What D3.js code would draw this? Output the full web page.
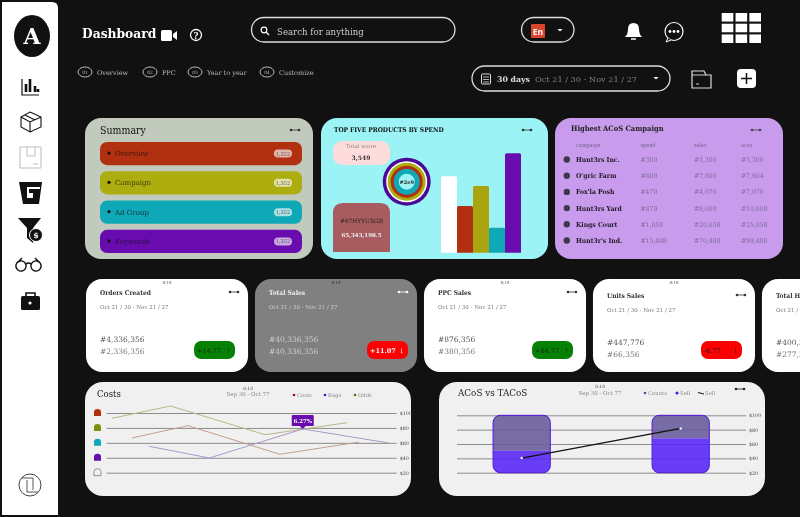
<!DOCTYPE html>
<html>
<head>
<meta charset="utf-8">
<script src="https://cdn.jsdelivr.net/npm/d3@7"></script>
<style>
  html, body { margin: 0; padding: 0; background: #111; overflow: hidden; }
  svg { display: block; filter: blur(0.45px); }
  text { font-family: "DejaVu Serif", serif; }
</style>
</head>
<body>
<div class="chart"></div>
<script>
const w = 800;
const h = 517;

// Data
const navChips = ['Overview', 'PPC', 'Year to year', 'Customize'];
const summaryRows = ['Overview', 'Campaign', 'Ad Group', 'Keywords'];
const summaryCounts = ['1,352', '1,352', '1,352', '1,352'];

const productNames = ['A', 'B', 'C', 'D', 'E'];
const productSpend = [77, 47, 67, 25, 100];
const ringValues = [24, 20.5, 19, 16, 13, 8];

const tableHead = ['campaign', 'spend', 'sales', 'acos'];
const campaigns = ['Hunt3rs Inc.', "O'gric Farm", "Fox'la Posh", 'Hunt3rs Yard', 'Kings Court', "Hunt3r's Ind."];
const spend = ['#300', '#600', '#470', '#879', '#1,058', '#15,488'];
const sales = ['#3,300', '#7,600', '#4,070', '#8,009', '#20,058', '#70,488'];
const acos = ['#3,300', '#7,604', '#7,070', '#10,009', '#25,058', '#99,488'];

const kpiTitles = ['Orders Created', 'Total Sales', 'PPC Sales', 'Units Sales', 'Total Hours'];
const kpiNow = ['#4,336,356', '#40,336,356', '#876,356', '#447,776', '#400,356'];
const kpiPrev = ['#2,336,356', '#40,336,356', '#380,356', '#66,356', '#277,356'];
const kpiDelta = ['+14.77', '+11.07', '+64.77', '-6.77', ''];
const kpiUp = [true, false, true, false, true];

const yTicks = [20, 40, 60, 80, 100];
const tickLabels = ['$20', '$40', '$60', '$80', '$100'];

const costsDays = [1.8, 22, 54.6, 82.8];
const costsValues = [92.9, 109.4, 70.9, 87];
const kingsDays = [8.7, 28, 59.7, 87];
const kingsValues = [66.5, 83, 44.7, 61];
const oddsDays = [14.6, 35.4, 67.6, 97];
const oddsValues = [55.4, 39.7, 78.6, 60];

const acosCats = ['Sep 30', 'Oct 77'];
const countsValues = [50.5, 67.8];
const sellTop = [100, 100];
const sellLine = [40.4, 81.7];

const periodLong = 'Oct 21 / 30 - Nov 21 / 27';
const periodShort = 'Sep 30 - Oct 77';

const red = '#b0300f';
const olive = '#aead10';
const teal = '#0fa8b6';
const purple = '#680cb0';
const condensed = '"DejaVu Serif Condensed", "DejaVu Serif", serif';

const svg = d3.select('.chart').append('svg').attr('width', w).attr('height', h);
svg.append('rect').attr('width', w).attr('height', h).attr('fill', '#111');

function txt(g, x, y, s, size, fill, weight, anchor) {
  return g.append('text').attr('x', x).attr('y', y).text(s)
    .attr('font-size', size).attr('fill', fill)
    .attr('font-weight', weight || 400).attr('text-anchor', anchor || 'start');
}

function narrow(g, x, y, s, size, fill, weight, anchor) {
  return txt(g, x, y, s, size, fill, weight, anchor).style('font-family', condensed);
}

function card(x, y, cw, ch, r, fill) {
  return svg.append('rect').attr('x', x).attr('y', y).attr('width', cw).attr('height', ch)
    .attr('rx', r).attr('fill', fill);
}

function more(g, x, y, color) {
  g.append('path').attr('d', `M${x - 4},${y}H${x + 4}`).attr('stroke', color).attr('stroke-width', 0.8);
  g.append('circle').attr('cx', x - 4).attr('cy', y).attr('r', 1.3).attr('fill', color);
  g.append('circle').attr('cx', x + 4).attr('cy', y).attr('r', 1.3).attr('fill', color);
}

// Sidebar
svg.append('path').attr('d', 'M2,2H52Q58,2 58,8V515H2Z').attr('fill', '#fff');
svg.append('ellipse').attr('cx', 32).attr('cy', 36).attr('rx', 18).attr('ry', 21).attr('fill', '#111');
txt(svg, 32, 44, 'A', 22, '#fff', 700, 'middle');

const side = svg.append('g').attr('fill', 'none').attr('stroke', '#111');
side.append('path').attr('d', 'M22,79V95H39').attr('stroke-width', 1.2);
side.append('path').attr('d', 'M26,92V84M30,92V79M35,92V86M38,92V89').attr('stroke-width', 2.6);
side.append('path').attr('d', 'M30,112L41,117V127L30,132L21,127V117ZM21,117L30,122L41,117M30,122V132M25,115L35,120')
  .attr('stroke-width', 1.1);
side.append('path').attr('d', 'M20,147H41V168H20ZM27,147V156H35V147M33,164H38')
  .attr('stroke', '#bbb').attr('stroke-width', 1);
svg.append('path').attr('d', 'M19,182H42L39,204H23ZM27,189V198H33V193H29V189H40V187H27Z').attr('fill', '#111');
svg.append('path').attr('d', 'M18,218H41L33,228V243L27,238V228Z').attr('fill', '#111');
svg.append('circle').attr('cx', 36).attr('cy', 235).attr('r', 6.5).attr('fill', '#111').attr('stroke', '#fff');
txt(svg, 36, 238, '$', 8, '#fff', 700, 'middle');
side.append('path').attr('d', 'M26,265a5,5 0 1,1 -10,2a5,5 0 1,1 10,-2ZM31,265a5,5 0 1,0 10,2a5,5 0 1,0 -10,-2ZM26,264Q28.5,262 31,264M18,262L22,258M39,262L35,258')
  .attr('stroke-width', 1.4);
svg.append('rect').attr('x', 21).attr('y', 296).attr('width', 19).attr('height', 14).attr('rx', 1.5).attr('fill', '#111');
side.append('path').attr('d', 'M26,296V293H35V296').attr('stroke-width', 1.6);
side.append('path').attr('d', 'M21,303H40').attr('stroke', '#fff').attr('stroke-width', 1);
svg.append('circle').attr('cx', 30).attr('cy', 303).attr('r', 1.6).attr('fill', '#fff');
side.append('circle').attr('cx', 30).attr('cy', 485).attr('r', 11).attr('stroke', '#444').attr('stroke-width', 1);
side.append('path').attr('d', 'M22,478H33V490M38,492H27V480').attr('stroke', '#444').attr('stroke-width', 0.9);

// Header
txt(svg, 82, 38, 'Dashboard', 12.3, '#fff', 700);
svg.append('rect').attr('x', 161).attr('y', 30).attr('width', 11).attr('height', 11).attr('rx', 1.5).attr('fill', '#fff');
svg.append('path').attr('d', 'M173,34L177,31V40L173,37Z').attr('fill', '#fff');
svg.append('circle').attr('cx', 196).attr('cy', 35).attr('r', 5.5).attr('fill', 'none').attr('stroke', '#fff').attr('stroke-width', 1.3);
txt(svg, 196, 38.5, '?', 8.5, '#fff', 700, 'middle');

function pill(x, y, pw, ph) {
  svg.append('rect').attr('x', x).attr('y', y).attr('width', pw).attr('height', ph).attr('rx', ph / 2)
    .attr('fill', 'none').attr('stroke', '#ddd').attr('stroke-width', 1.3);
}
function caret(x, y) {
  svg.append('path').attr('d', `M${x - 2.5},${y - 1}h5l-2.5,2.5Z`).attr('fill', '#fff');
}

pill(251.5, 17.5, 203.5, 24.5);
svg.append('circle').attr('cx', 264).attr('cy', 30).attr('r', 2.8).attr('fill', 'none').attr('stroke', '#fff').attr('stroke-width', 1.2);
svg.append('path').attr('d', 'M266,32L269,35').attr('stroke', '#fff').attr('stroke-width', 1.3);
txt(svg, 277, 35, 'Search for anything', 8.6, '#ccc');

pill(521.5, 17.5, 52.5, 24.5);
svg.append('rect').attr('x', 531).attr('y', 24).attr('width', 14).attr('height', 14).attr('rx', 1).attr('fill', '#d8452a');
txt(svg, 538, 34.5, 'En', 8.5, '#fff', 700, 'middle').style('font-family', '"Open Sans", sans-serif');
caret(560, 30);

svg.append('path').attr('d', 'M625,37Q628,34 628,29Q628,23 633.5,23Q639,23 639,29Q639,34 642,37Z').attr('fill', '#fff');
svg.append('path').attr('d', 'M631,39H636').attr('stroke', '#fff').attr('stroke-width', 1.5);
svg.append('circle').attr('cx', 674).attr('cy', 31.5).attr('r', 9).attr('fill', 'none').attr('stroke', '#fff').attr('stroke-width', 1.2);
svg.append('path').attr('d', 'M668,38L666,42L671,40').attr('fill', '#111').attr('stroke', '#fff');
svg.selectAll('.chat').data([670, 674, 678]).enter().append('circle')
  .attr('cx', (d) => d).attr('cy', 31.5).attr('r', 1.4).attr('fill', '#fff');

const gridX = d3.scaleBand().domain([0, 1, 2]).range([721.7, 761]).paddingInner(0.16);
const gridY = d3.scaleBand().domain([0, 1, 2]).range([13, 43]).paddingInner(0.2);
[0, 1, 2].forEach((r) => {
  [0, 1, 2].forEach((c) => {
    svg.append('rect').attr('x', gridX(c)).attr('y', gridY(r))
      .attr('width', gridX.bandwidth()).attr('height', gridY.bandwidth()).attr('fill', '#fff');
  });
});

// Chips under the title
const chipX = [85, 150, 195, 267];
navChips.forEach((d, i) => {
  svg.append('ellipse').attr('cx', chipX[i]).attr('cy', 72).attr('rx', 7).attr('ry', 5)
    .attr('fill', 'none').attr('stroke', '#ccc').attr('stroke-width', 0.9);
  txt(svg, chipX[i], 74, '0' + (i + 1), 4.5, '#bbb', 400, 'middle');
  txt(svg, chipX[i] + 12, 75, d, 6.5, '#bbb');
});

// Date picker
pill(472, 66, 198, 25);
svg.append('rect').attr('x', 481.5).attr('y', 74).attr('width', 9).attr('height', 10).attr('rx', 1).attr('fill', 'none').attr('stroke', '#ddd');
svg.append('path').attr('d', 'M483,77H489M483,79.5H489M483,82H489').attr('stroke', '#ddd').attr('stroke-width', 0.8);
txt(svg, 497, 82, '30 days', 7.8, '#ddd', 700);
txt(svg, 535, 82, periodLong, 8.2, '#808080');
caret(656, 78);

svg.append('path').attr('d', 'M692,88V71H704L706,75H711V88Z').attr('fill', 'none').attr('stroke', '#ddd').attr('stroke-width', 1.2);
svg.append('path').attr('d', 'M692,75H706M696,84H699').attr('stroke', '#ddd').attr('stroke-width', 0.9);
svg.append('rect').attr('x', 737).attr('y', 69).attr('width', 19).attr('height', 19).attr('rx', 4).attr('fill', '#fff');
svg.append('path').attr('d', 'M741,78.5H752M746.5,73V84').attr('stroke', '#111').attr('stroke-width', 1.5);

// Summary card
card(85, 118, 228, 141, 16, '#c2cabe');
narrow(svg, 100, 134, 'Summary', 10.5, '#111', 400);
more(svg, 295, 130, '#333');
const rowColors = [red, olive, teal, purple];
const rowY = d3.scaleBand().domain(summaryRows).range([142, 253]).paddingInner(0.21).paddingOuter(0);
summaryRows.forEach((d, i) => {
  svg.append('rect').attr('x', 100).attr('y', rowY(d)).attr('width', 202).attr('height', rowY.bandwidth())
    .attr('rx', 7).attr('fill', rowColors[i]);
  const cy = rowY(d) + rowY.bandwidth() / 2;
  svg.append('circle').attr('cx', 109).attr('cy', cy - 0.5).attr('r', 1.6).attr('fill', '#111');
  txt(svg, 115, cy + 2.5, d, 7, 'rgba(17,17,17,0.75)');
  svg.append('rect').attr('x', 274).attr('y', cy - 4).attr('width', 18).attr('height', 8).attr('rx', 4)
    .attr('fill', 'rgba(255,255,255,0.65)');
  txt(svg, 283, cy + 2, summaryCounts[i], 5, '#555', 400, 'middle');
});

// Top five card
card(321, 118, 227, 141, 16, '#9cf3f5');
narrow(svg, 334, 132, 'TOP FIVE PRODUCTS BY SPEND', 6.6, '#111', 700);
more(svg, 527, 130, '#333');
card(333, 141, 57, 24, 9, '#ffdcdc');
txt(svg, 361, 148, 'Total score', 5.5, '#888', 400, 'middle');
txt(svg, 361, 160, '3,549', 6, '#333', 700, 'middle');
svg.append('path').attr('d', 'M333,252V213Q333,203 343,203H380Q390,203 390,213V252Z').attr('fill', '#a85c60');
txt(svg, 361.5, 223, '#67HYYUXGB', 5.8, '#222', 400, 'middle');
txt(svg, 361.5, 237, '65,343,198.5', 5.5, '#eee', 700, 'middle');

const ringColors = ['#4a0a96', '#ffffff', olive, red, teal, '#9cf3f5'];
const ringG = svg.append('g').attr('transform', 'translate(406.7,181.7)');
const ringR = d3.scaleLinear().domain([0, 24]).range([0, 24]);
ringG.selectAll('circle').data(ringValues).enter().append('circle')
  .attr('r', (d) => ringR(d)).attr('fill', (d, i) => ringColors[i]);
txt(ringG, 0, 2, '#2e9', 5, '#222', 700, 'middle');

const prodX = d3.scaleBand().domain(productNames).range([441, 521]);
const prodY = d3.scaleLinear().domain([0, 100]).range([252.7, 153.3]);
const prodColors = ['#ffffff', red, '#a9a410', teal, purple];
svg.selectAll('.prod').data(productSpend).enter().append('path')
  .attr('fill', (d, i) => prodColors[i])
  .attr('d', (d, i) => {
    const x0 = prodX(productNames[i]);
    const x1 = x0 + prodX.bandwidth();
    const y0 = prodY(d);
    return `M${x0},${prodY(0)}V${y0 + 1.5}Q${x0},${y0} ${x0 + 1.5},${y0}H${x1 - 1.5}Q${x1},${y0} ${x1},${y0 + 1.5}V${prodY(0)}Z`;
  });

// Campaign table card
card(555, 118, 228, 141, 16, '#c89bec');
narrow(svg, 571, 131, 'Highest ACoS Campaign', 7.5, '#222', 700);
more(svg, 756, 130, '#444');
const colX = d3.scaleOrdinal().domain(tableHead).range([576, 640.5, 694, 741]);
tableHead.forEach((d) => narrow(svg, colX(d), 147, d, 5.5, '#76608c'));
const rowScale = d3.scalePoint().domain(campaigns).range([159.5, 240.5]);
campaigns.forEach((d, i) => {
  const y = rowScale(d);
  svg.append('circle').attr('cx', 566.8).attr('cy', y).attr('r', 3.2).attr('fill', '#403848');
  narrow(svg, 576, y + 2.5, d, 6.8, '#221a2a', 700);
  narrow(svg, colX('spend'), y + 2.5, spend[i], 6.8, '#7f6a9c');
  narrow(svg, colX('sales'), y + 2.5, sales[i], 6.8, '#7f6a9c');
  narrow(svg, colX('acos'), y + 2.5, acos[i], 6.8, '#7f6a9c');
});

// KPI cards
const kpiX = d3.scaleBand().domain(kpiTitles).range([86, 924]).paddingInner(0.041).paddingOuter(0);
kpiTitles.forEach((d, i) => {
  const x = kpiX(d);
  const dark = i === 1;
  const main = dark ? '#ececec' : '#333';
  const soft = dark ? '#cfcfcf' : '#777';
  const dy = i >= 3 ? 3 : 0;
  card(x, 279, kpiX.bandwidth(), 93, 16, dark ? '#808080' : '#fff');
  txt(svg, x + 81, 284, '8:18', 4, dark ? '#333' : '#555', 400, 'middle');
  narrow(svg, x + 14, 295 + dy, d, 6.6, main, 700);
  more(svg, x + 148, 292 + dy, dark ? '#fff' : '#333');
  txt(svg, x + 14, 309 + dy, periodLong, 5.5, soft);
  txt(svg, x + 14, 342 + dy, kpiNow[i], 7.5, soft === '#777' ? '#555' : soft);
  txt(svg, x + 14, 354 + dy, kpiPrev[i], 7.5, soft);
  if (kpiDelta[i]) {
    const pillX = x + kpiX.bandwidth() - (i === 1 ? 50 : 54);
    card(pillX, 341, 41, 18, 7, kpiUp[i] ? '#058205' : '#fb0202');
    txt(svg, pillX + 3, 352.5, kpiDelta[i], 6.5, i === 1 ? '#fff' : '#1c1c1c', i === 1 ? 700 : 400);
    txt(svg, pillX + 32, 352.5, kpiUp[i] ? '↑' : '↓', 6.5, i === 1 ? '#fff' : '#1c1c1c');
  }
});

function yAxis(g, scale, x, len) {
  g.attr('transform', `translate(${x},0)`)
    .call(d3.axisRight(scale).tickValues(yTicks).tickSize(-len).tickPadding(3)
      .tickFormat((d, i) => tickLabels[i]));
  g.select('.domain').remove();
  g.selectAll('.tick line').attr('stroke', '#8c8c8c').attr('stroke-width', 1);
  g.selectAll('.tick text').attr('font-family', '"DejaVu Serif", serif').attr('font-size', 4.8).attr('fill', '#444');
}

// Costs chart
card(85, 382, 326, 114, 18, '#f0f0f0');
narrow(svg, 97, 397, 'Costs', 9.5, '#222', 400);
txt(svg, 248, 390, '8:18', 4.5, '#555', 400, 'middle');
txt(svg, 248, 396, periodShort, 5.5, '#888', 400, 'middle');
const costLegend = [['Costs', '#a01010', 295], ['Kngs', '#3a20c0', 326], ['Odds', '#606a10', 356]];
costLegend.forEach((d) => {
  svg.append('circle').attr('cx', d[2] - 1).attr('cy', 395).attr('r', 1.3).attr('fill', d[1]);
  txt(svg, d[2] + 2, 397, d[0], 5.3, '#888');
});

const costY = d3.scaleLinear().domain([20, 100]).range([472.7, 413]);
const costX = d3.scaleLinear().domain([0, 100]).range([106.7, 396.7]);
yAxis(svg.append('g'), costY, 396.7, 290);

const archColors = [red, '#7f8f12', teal, purple, '#f0f0f0'];
yTicks.slice().reverse().forEach((d, i) => {
  const y = costY(d);
  svg.append('path').attr('d', `M94,${y + 3}V${y - 1}Q94,${y - 4} 97.5,${y - 4}Q101,${y - 4} 101,${y - 1}V${y + 3}Z`)
    .attr('fill', archColors[i]).attr('stroke', i === 4 ? '#555' : 'none').attr('stroke-width', 0.6);
});

const costLine = (xs, ys) => d3.line().x((d, i) => costX(xs[i])).y((d, i) => costY(ys[i]))(ys);
[
  [costsDays, costsValues, '#b8b888'],
  [kingsDays, kingsValues, '#c49f90'],
  [oddsDays, oddsValues, '#ab98cc'],
].forEach((s) => {
  svg.append('path').attr('d', costLine(s[0], s[1])).attr('fill', 'none').attr('stroke', s[2]).attr('stroke-width', 1);
});

const tipX = costX(oddsDays[2]);
const tipY = costY(oddsValues[2]);
svg.append('path').attr('fill', purple)
  .attr('d', `M${tipX - 11},${tipY - 13}Q${tipX - 11},${tipY - 14} ${tipX - 10},${tipY - 14}H${tipX + 10}Q${tipX + 11},${tipY - 14} ${tipX + 11},${tipY - 13}V${tipY - 3}H${tipX + 3}L${tipX},${tipY}L${tipX - 3},${tipY - 3}H${tipX - 11}Z`);
txt(svg, tipX, tipY - 6, '6.27%', 5.5, '#fff', 700, 'middle');

// ACoS vs TACoS chart
card(439, 382, 326, 114, 18, '#f0f0f0');
narrow(svg, 458, 396, 'ACoS vs TACoS', 9.8, '#222', 400);
more(svg, 740, 389, '#222');
txt(svg, 600, 388, '8:18', 4.5, '#555', 400, 'middle');
txt(svg, 600, 395, periodShort, 5.5, '#888', 400, 'middle');
svg.append('circle').attr('cx', 645).attr('cy', 393).attr('r', 1.3).attr('fill', '#5a4a9a');
txt(svg, 648, 395, 'Counts', 5.3, '#888');
svg.append('circle').attr('cx', 677).attr('cy', 393).attr('r', 1.6).attr('fill', '#4a20e0');
txt(svg, 680, 395, 'Sell', 5.3, '#888');
svg.append('path').attr('d', 'M698,392.5L704,394').attr('stroke', '#111').attr('stroke-width', 1);
txt(svg, 705, 395, 'Sell', 5.3, '#888');

const acosY = d3.scaleLinear().domain([20, 100]).range([472.7, 415.3]);
yAxis(svg.append('g'), acosY, 746, 289);

const acosX = d3.scaleBand().domain(acosCats).range([442.2, 760.2]).paddingInner(0.64).paddingOuter(0.32);
const defs = svg.append('defs');
acosCats.forEach((d, i) => {
  const x = acosX(d);
  const bw = acosX.bandwidth();
  const top = acosY(sellTop[i]);
  const base = acosY(20);
  const mid = acosY(countsValues[i]);
  defs.append('clipPath').attr('id', 'bar' + i).append('rect')
    .attr('x', x).attr('y', top).attr('width', bw).attr('height', base - top).attr('rx', 7);
  const g = svg.append('g').attr('clip-path', `url(#bar${i})`);
  g.append('rect').attr('x', x).attr('y', top).attr('width', bw).attr('height', mid - top)
    .attr('fill', '#6a5d9c').attr('opacity', 0.9);
  g.append('rect').attr('x', x).attr('y', mid).attr('width', bw).attr('height', base - mid)
    .attr('fill', '#5a28f5').attr('opacity', 0.9);
  svg.append('rect').attr('x', x).attr('y', top).attr('width', bw).attr('height', base - top).attr('rx', 7)
    .attr('fill', 'none').attr('stroke', '#4a14d8').attr('stroke-width', 1);
});

const sellPath = d3.line()
  .x((d, i) => acosX(acosCats[i]) + acosX.bandwidth() / 2)
  .y((d) => acosY(d));
svg.append('path').attr('d', sellPath(sellLine)).attr('fill', 'none').attr('stroke', '#111').attr('stroke-width', 1.2);
svg.selectAll('.sell').data(sellLine).enter().append('circle')
  .attr('cx', (d, i) => acosX(acosCats[i]) + acosX.bandwidth() / 2)
  .attr('cy', (d) => acosY(d)).attr('r', 1.3).attr('fill', '#eee');
</script>
</body>
</html>
